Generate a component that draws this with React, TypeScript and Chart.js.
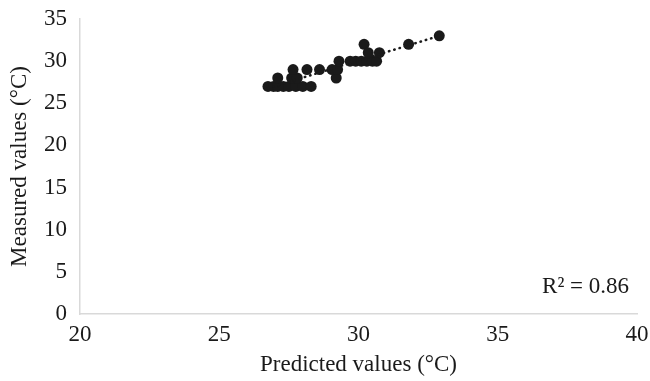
import React, { useEffect, useRef } from "react";
import { Chart, registerables } from "chart.js";

Chart.register(...registerables);

const predicted = [
  26.75, 26.95, 27.1, 27.3, 27.5, 27.75, 28.0, 28.3,
  27.1, 27.6, 27.8, 29.2,
  27.65, 28.15, 28.6, 29.05, 29.25,
  29.3, 29.7, 29.9, 30.1, 30.3, 30.5, 30.65,
  30.2, 30.35, 30.75, 31.8, 32.9,
];
const measured = [
  27, 27, 27, 27, 27, 27, 27, 27,
  28, 28, 28, 28,
  29, 29, 29, 29, 29,
  30, 30, 30, 30, 30, 30, 30,
  32, 31, 31, 32, 33,
];
const rSquaredLabel = "R² = 0.86";
const xTitle = "Predicted values (°C)";
const yTitle = "Measured values (°C)";

const FONT = "'Liberation Serif', 'Times New Roman', serif";
const FS = 23;
const TEXT = "#1a1a1a";
const AXIS = "#d9d9d9";

function fitLine(xs: number[], ys: number[]) {
  const n = xs.length;
  const mx = xs.reduce((a, b) => a + b, 0) / n;
  const my = ys.reduce((a, b) => a + b, 0) / n;
  let sxy = 0, sxx = 0;
  for (let i = 0; i < n; i++) {
    sxy += (xs[i] - mx) * (ys[i] - my);
    sxx += (xs[i] - mx) * (xs[i] - mx);
  }
  const b = sxy / sxx;
  const a = my - b * mx;
  const x0 = Math.min(...xs);
  const x1 = Math.max(...xs);
  return [
    { x: x0, y: a + b * x0 },
    { x: x1, y: a + b * x1 },
  ];
}

export default function App() {
  const ref = useRef<HTMLCanvasElement | null>(null);
  useEffect(() => {
    if (!ref.current) return;
    const points = predicted.map((x, i) => ({ x, y: measured[i] }));
    const trend = fitLine(predicted, measured);
    const r2Plugin = {
      id: "r2label",
      afterDatasetsDraw(chart: any) {
        const { ctx, chartArea } = chart;
        ctx.save();
        ctx.font = `${FS}px ${FONT}`;
        ctx.fillStyle = TEXT;
        ctx.textAlign = "right";
        ctx.textBaseline = "middle";
        ctx.fillText(rSquaredLabel, chartArea.right - 8, 287);
        ctx.restore();
      },
    };
    const chart = new Chart(ref.current, {
      type: "scatter",
      data: {
        datasets: [
          {
            type: "line",
            data: trend,
            borderColor: "#1a1a1a",
            borderWidth: 2.5,
            borderDash: [0.5, 5],
            borderCapStyle: "round",
            pointRadius: 0,
            fill: false,
            order: 0,
          } as any,
          {
            data: points,
            backgroundColor: "#1a1a1a",
            borderColor: "#1a1a1a",
            pointRadius: 5.5,
            borderWidth: 0,
            order: 1,
          },
        ],
      },
      options: {
        animation: false,
        responsive: false,
        maintainAspectRatio: false,
        layout: { padding: { top: 19, right: 13, left: 0, bottom: 0 } },
        plugins: {
          legend: { display: false },
          tooltip: { enabled: false },
        },
        scales: {
          x: {
            type: "linear",
            min: 20,
            max: 40,
            ticks: {
              stepSize: 5,
              color: TEXT,
              font: { family: FONT, size: FS },
              padding: 7,
            },
            grid: { display: true, drawOnChartArea: false, drawTicks: false, color: AXIS },
            border: { display: true, color: AXIS, width: 1.5 },
            title: {
              display: true,
              text: xTitle,
              color: TEXT,
              font: { family: FONT, size: FS },
              padding: { top: 0, bottom: 2 },
            },
            afterFit: (s: any) => {
              s.height = 67;
              s.paddingLeft = 0;
              s.paddingRight = 0;
            },
          },
          y: {
            type: "linear",
            min: 0,
            max: 35,
            ticks: {
              stepSize: 5,
              color: TEXT,
              font: { family: FONT, size: FS },
              padding: 13,
            },
            grid: { display: true, drawOnChartArea: false, drawTicks: false, color: AXIS },
            border: { display: true, color: AXIS, width: 1.5 },
            title: {
              display: true,
              text: yTitle,
              color: TEXT,
              font: { family: FONT, size: FS },
              padding: { top: 6, bottom: 0 },
            },
            afterFit: (s: any) => {
              s.width = 80;
              s.paddingTop = 0;
              s.paddingBottom = 0;
            },
          },
        },
      },
      plugins: [r2Plugin],
    });
    return () => chart.destroy();
  }, []);
  return (
    <div style={{ position: "fixed", left: 0, top: 0, width: 650, height: 381, background: "#fff" }}>
      <canvas ref={ref} width={650} height={381} style={{ width: 650, height: 381, display: "block" }} />
    </div>
  );
}
